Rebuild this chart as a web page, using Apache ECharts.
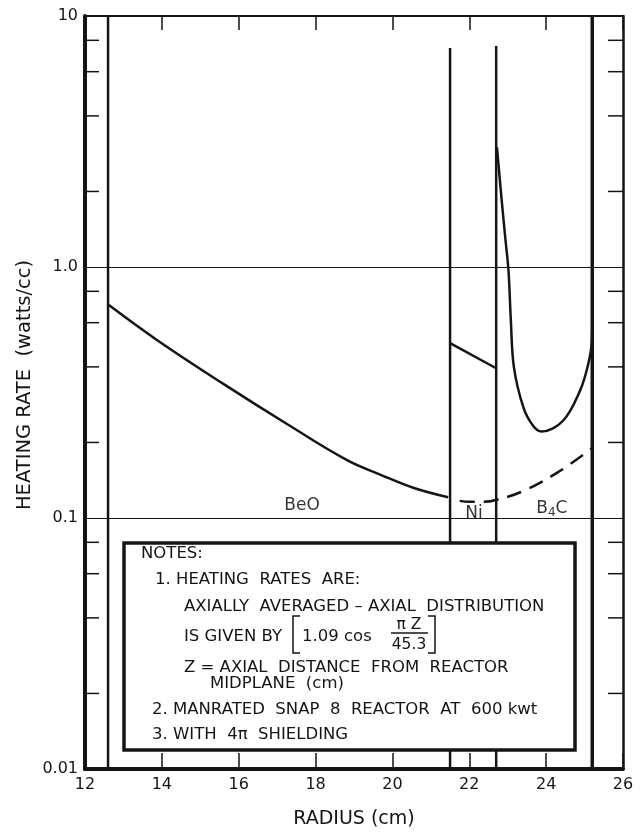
<!DOCTYPE html>
<html>
<head>
<meta charset="utf-8">
<script src="https://cdn.jsdelivr.net/npm/echarts@6/dist/echarts.min.js"></script>
<style>
html, body { margin: 0; padding: 0; background: #fff; }
#chart { width: 643px; height: 834px; }
</style>
</head>
<body>
<div id="chart"></div>
<script>
// region boundaries (radius, cm)
const fullBounds = [12.6, 25.2];
const niBounds = [21.5, 22.7];
const niBoundTops = [7.46, 7.6];

// BeO heating rate
const beoR = [12.62, 13.87, 15.59, 17.33, 18.82, 19.68, 20.54, 21.45];
const beoRate = [0.705, 0.512, 0.343, 0.233, 0.170, 0.149, 0.132, 0.121];

// Ni heating rate
const niR = [21.5, 22.7];
const niRate = [0.497, 0.395];

// B4C heating rate (solid)
const b4cR = [22.72, 22.84, 22.94, 23.02, 23.08, 23.16, 23.41, 23.66, 23.88, 24.44, 24.88, 25.09, 25.19, 25.2];
const b4cRate = [3.0, 1.87, 1.29, 0.97, 0.62, 0.40, 0.275, 0.233, 0.221, 0.244, 0.321, 0.407, 0.506, 0.6];

// dashed curve
const dashR = [21.75, 22.0, 22.35, 22.7, 23.4, 24.3, 25.2];
const dashRate = [0.117, 0.116, 0.116, 0.118, 0.128, 0.152, 0.19];

// minor ticks of the log axis
const minorTicks = [0.02, 0.04, 0.06, 0.08, 0.2, 0.4, 0.6, 0.8, 2, 4, 6, 8];
const yTickLabels = ['0.01', '0.1', '1.0', '10'];

// region labels
const regionNames = ['BeO', 'Ni', 'B4C'];
const regionR = [17.65, 22.12, 24.15];
const regionRate = [0.112, 0.104, 0.109];

const FONT = 'DejaVu Sans';
const INK = '#151515';

let myChart = echarts.init(document.getElementById('chart'));

function pairs(xs, ys) {
	return xs.map((x, i) => [x, ys[i]]);
}

let series = [];
fullBounds.forEach((r, i) => {
	series.push({
		type: 'line', symbol: 'none', silent: true,
		data: [[r, 0.01], [r, 10]],
		lineStyle: { color: INK, width: i === 1 ? 3.5 : 2.5 }
	});
});
niBounds.forEach((r, i) => {
	series.push({
		type: 'line', symbol: 'none', silent: true,
		data: [[r, 0.01], [r, niBoundTops[i]]],
		lineStyle: { color: INK, width: 2.5 }
	});
});
series.push({
	type: 'line', symbol: 'none', smooth: 0.4,
	data: pairs(beoR, beoRate),
	lineStyle: { color: INK, width: 2.5 }
});
series.push({
	type: 'line', symbol: 'none',
	data: pairs(niR, niRate),
	lineStyle: { color: INK, width: 2.5 }
});
series.push({
	type: 'line', symbol: 'none', smooth: 0.35,
	data: pairs(b4cR, b4cRate),
	lineStyle: { color: INK, width: 2.5 }
});
series.push({
	type: 'line', symbol: 'none', smooth: 0.4,
	data: pairs(dashR, dashRate),
	lineStyle: { color: INK, width: 2.5, type: [15, 9] }
});
// minor ticks, inside both left and right axes
series.push({
	type: 'custom', silent: true,
	data: minorTicks.map(v => [12, v]),
	renderItem: function (params, api) {
		let y = api.coord([12, api.value(1)])[1];
		let cs = params.coordSys;
		return {
			type: 'group',
			children: [
				{ type: 'line', shape: { x1: cs.x, y1: y, x2: cs.x + 14, y2: y }, style: { stroke: INK, lineWidth: 1.5 } },
				{ type: 'line', shape: { x1: cs.x + cs.width - 15, y1: y, x2: cs.x + cs.width, y2: y }, style: { stroke: INK, lineWidth: 1.5 } }
			]
		};
	}
});
// region labels
series.push({
	type: 'scatter', symbolSize: 0, silent: true,
	data: regionNames.map((n, i) => ({ name: n, value: [regionR[i], regionRate[i]] })),
	label: {
		show: true, position: 'inside', color: '#000', fontFamily: FONT, fontSize: 17,
		textBorderWidth: 0,
		formatter: function (p) {
			return p.name === 'B4C' ? 'B{sub|4}C' : p.name;
		},
		rich: { sub: { fontSize: 12, fontFamily: FONT, color: '#000', padding: [9, 0, 0, 0] } }
	}
});

let textStyle = function (t, x, y) {
	return {
		type: 'text', z: 20, x: x, y: y,
		style: { text: t, font: '16.5px "' + FONT + '"', fill: INK, textVerticalAlign: 'middle' }
	};
};

let option = {
	animation: false,
	grid: { left: 85, right: 20, top: 16, bottom: 61 },
	xAxis: [{
		type: 'value', min: 12, max: 26, interval: 2, position: 'bottom',
		name: 'RADIUS (cm)', nameLocation: 'middle', nameGap: 41,
		nameTextStyle: { fontFamily: FONT, fontSize: 19, color: INK },
		axisLine: { lineStyle: { color: INK, width: 4 } },
		axisTick: { inside: true, length: 16, lineStyle: { color: INK, width: 1.5 } },
		axisLabel: { fontFamily: FONT, fontSize: 16, color: INK, margin: 8 },
		splitLine: { show: false }
	}, {
		type: 'value', min: 12, max: 26, interval: 2, position: 'top',
		axisLine: { lineStyle: { color: INK, width: 2 } },
		axisTick: { inside: true, length: 14, lineStyle: { color: INK, width: 1.5 } },
		axisLabel: { show: false },
		splitLine: { show: false }
	}],
	yAxis: [{
		type: 'log', logBase: 10, min: 0.01, max: 10, position: 'left',
		axisLine: { lineStyle: { color: INK, width: 4 } },
		axisTick: { show: false },
		axisLabel: { fontFamily: FONT, fontSize: 16, color: INK, margin: 7,
			formatter: v => yTickLabels[Math.round(Math.log10(v)) + 2] },
		splitLine: { show: true, lineStyle: { color: INK, width: 1 } }
	}, {
		type: 'log', logBase: 10, min: 0.01, max: 10, position: 'right',
		axisLine: { show: true, lineStyle: { color: INK, width: 2.5 } },
		axisTick: { show: false },
		axisLabel: { show: false },
		splitLine: { show: false }
	}],
	series: series,
	graphic: [
		{
			type: 'text', z: 20, x: 25, y: 385, rotation: Math.PI / 2,
			style: { text: 'HEATING RATE  (watts/cc)', font: '19.5px "' + FONT + '"', fill: INK,
				textAlign: 'center', textVerticalAlign: 'middle' }
		},
		{
			type: 'rect', z: 15,
			shape: { x: 124, y: 543, width: 451, height: 207 },
			style: { fill: '#fff', stroke: INK, lineWidth: 3.5 }
		},
		textStyle('NOTES:', 141, 554),
		textStyle('1. HEATING  RATES  ARE:', 155, 580),
		textStyle('AXIALLY  AVERAGED – AXIAL  DISTRIBUTION', 184, 607),
		textStyle('IS GIVEN BY', 184, 637),
		{ type: 'polyline', z: 20, shape: { points: [[300, 616], [293, 616], [293, 653], [300, 653]] }, style: { stroke: INK, lineWidth: 1.5, fill: null } },
		{ type: 'text', z: 20, x: 302, y: 637, style: { text: '1.09 cos', font: '16.5px "' + FONT + '"', fill: INK, textVerticalAlign: 'middle' } },
		{ type: 'text', z: 20, x: 409, y: 625, style: { text: 'π Z', font: '15.5px "' + FONT + '"', fill: INK, textAlign: 'center', textVerticalAlign: 'middle' } },
		{ type: 'line', z: 20, shape: { x1: 391, y1: 633, x2: 428, y2: 633 }, style: { stroke: INK, lineWidth: 1.3 } },
		{ type: 'text', z: 20, x: 409, y: 645, style: { text: '45.3', font: '15.5px "' + FONT + '"', fill: INK, textAlign: 'center', textVerticalAlign: 'middle' } },
		{ type: 'polyline', z: 20, shape: { points: [[428, 616], [435, 616], [435, 653], [428, 653]] }, style: { stroke: INK, lineWidth: 1.5, fill: null } },
		textStyle('Z = AXIAL  DISTANCE  FROM  REACTOR', 184, 668),
		textStyle('MIDPLANE  (cm)', 210, 684),
		textStyle('2. MANRATED  SNAP  8  REACTOR  AT  600 kwt', 152, 710),
		textStyle('3. WITH  4π  SHIELDING', 152, 735)
	]
};
myChart.setOption(option);
</script>
</body>
</html>
